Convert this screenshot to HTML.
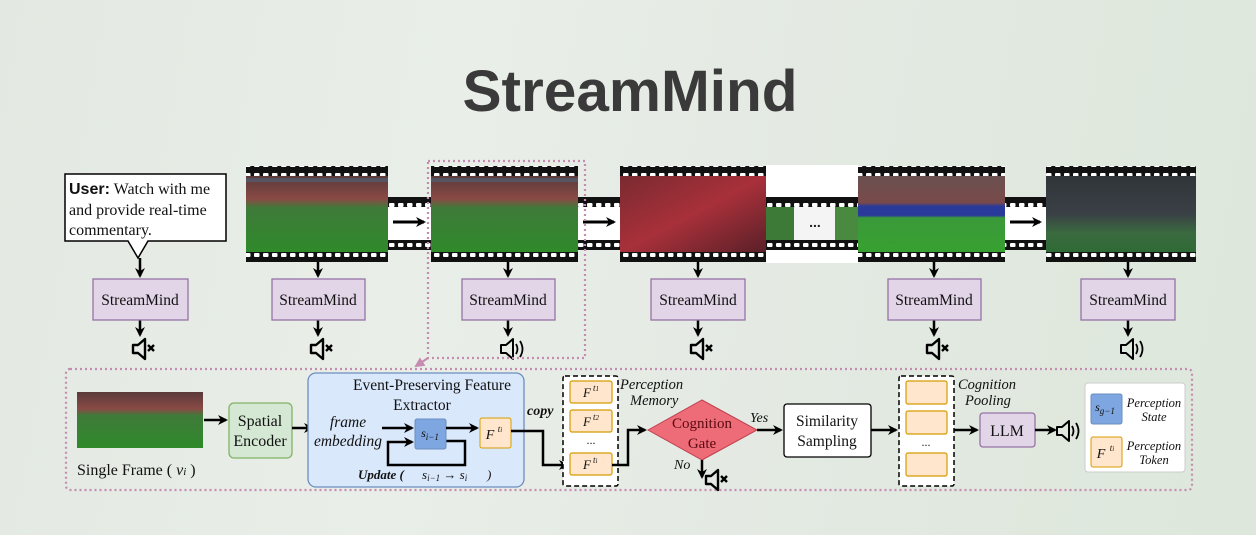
<!DOCTYPE html>
<html><head><meta charset="utf-8"><style>
html,body{margin:0;padding:0;width:1256px;height:535px;overflow:hidden}
body{background:linear-gradient(100deg,#e3e9e2 0%,#e9eee8 35%,#e2e9e1 70%,#dde7db 100%)}
svg{display:block}
.t{font-family:"Liberation Serif",serif;fill:#111}
.i{font-family:"Liberation Serif",serif;font-style:italic;fill:#111}
</style></head><body>
<svg width="1256" height="535" viewBox="0 0 1256 535" xmlns="http://www.w3.org/2000/svg">
<defs>
<marker id="ah" markerWidth="10" markerHeight="10" refX="8" refY="5" orient="auto" markerUnits="userSpaceOnUse">
<path d="M0,0 L10,5 L0,10 L3,5 Z" fill="#000"/></marker>
<marker id="ahp" markerWidth="10" markerHeight="10" refX="8" refY="5" orient="auto" markerUnits="userSpaceOnUse"><path d="M0,0 L10,5 L0,10 Z" fill="#c58bb0"/></marker>
<pattern id="perf" width="9" height="10" patternUnits="userSpaceOnUse">
<rect width="9" height="10" fill="#111"/><rect x="2" y="3" width="5.5" height="4" rx="1" fill="#fff"/></pattern>
<linearGradient id="pitch" x1="0" y1="0" x2="0" y2="1">
<stop offset="0" stop-color="#5a3a3a"/><stop offset="0.3" stop-color="#8a4a45"/><stop offset="0.42" stop-color="#3f7a3a"/><stop offset="1" stop-color="#2f8a2a"/></linearGradient>
<linearGradient id="crowd" x1="0" y1="0" x2="1" y2="1">
<stop offset="0" stop-color="#7a2a30"/><stop offset="0.5" stop-color="#a8303a"/><stop offset="1" stop-color="#5a2028"/></linearGradient>
<linearGradient id="p4" x1="0" y1="0" x2="0" y2="1">
<stop offset="0" stop-color="#6a5050"/><stop offset="0.35" stop-color="#7a4a4a"/><stop offset="0.4" stop-color="#2a3a9a"/><stop offset="0.52" stop-color="#2a3a9a"/><stop offset="0.55" stop-color="#3a9a3a"/><stop offset="1" stop-color="#38a030"/></linearGradient>
<linearGradient id="p5" x1="0" y1="0" x2="0" y2="1">
<stop offset="0" stop-color="#30353a"/><stop offset="0.5" stop-color="#3a4045"/><stop offset="0.75" stop-color="#3a6a40"/><stop offset="1" stop-color="#2f6a35"/></linearGradient>
<g id="mute"><path d="M0,5 h5 l7,-6 v20 l-7,-6 h-5 z" fill="none" stroke="#000" stroke-width="2.4" stroke-linejoin="round"/><path d="M15,5 l6,6 M21,5 l-6,6" stroke="#000" stroke-width="2.4"/></g>
<g id="snd"><path d="M0,5 h5 l7,-6 v20 l-7,-6 h-5 z" fill="none" stroke="#000" stroke-width="2" stroke-linejoin="round"/><path d="M15,4 q3,5 0,10 M19,1 q5,8 0,16" fill="none" stroke="#000" stroke-width="1.8"/></g>
</defs>

<text x="630" y="111" text-anchor="middle" font-family="'Liberation Sans',sans-serif" font-weight="bold" font-size="58" fill="#3a3a3a" textLength="335" lengthAdjust="spacingAndGlyphs">StreamMind</text>

<g>
<rect x="388" y="197" width="43" height="53" fill="#fff"/>
<rect x="388" y="197" width="43" height="10" fill="url(#perf)"/><rect x="388" y="240" width="43" height="10" fill="url(#perf)"/>
<rect x="578" y="197" width="42" height="53" fill="#fff"/>
<rect x="578" y="197" width="42" height="10" fill="url(#perf)"/><rect x="578" y="240" width="42" height="10" fill="url(#perf)"/>
<rect x="766" y="165" width="92" height="98" fill="#fff"/>
<rect x="766" y="197" width="92" height="10" fill="url(#perf)"/><rect x="766" y="240" width="92" height="10" fill="url(#perf)"/>
<rect x="766" y="207" width="28" height="33" fill="#3d7a38"/><rect x="835" y="207" width="23" height="33" fill="#4a8a40"/>
<rect x="794" y="207" width="41" height="33" fill="#f4f4f4"/>
<text x="815" y="227" text-anchor="middle" font-family="'Liberation Sans',sans-serif" font-size="14" font-weight="bold" fill="#222">...</text>
<rect x="1005" y="197" width="41" height="53" fill="#fff"/>
<rect x="1005" y="197" width="41" height="10" fill="url(#perf)"/><rect x="1005" y="240" width="41" height="10" fill="url(#perf)"/>
<line x1="393" y1="222" x2="424" y2="222" stroke="#000" stroke-width="3" marker-end="url(#ah)"/>
<line x1="583" y1="222" x2="614" y2="222" stroke="#000" stroke-width="3" marker-end="url(#ah)"/>
<line x1="1010" y1="222" x2="1040" y2="222" stroke="#000" stroke-width="3" marker-end="url(#ah)"/>
</g>

<g>
<rect x="246" y="166" width="142" height="10" fill="url(#perf)"/><rect x="246" y="176" width="142" height="76" fill="url(#pitch)"/><rect x="246" y="252" width="142" height="10" fill="url(#perf)"/>
<rect x="431" y="166" width="147" height="10" fill="url(#perf)"/><rect x="431" y="176" width="147" height="76" fill="url(#pitch)"/><rect x="431" y="252" width="147" height="10" fill="url(#perf)"/>
<rect x="620" y="166" width="146" height="10" fill="url(#perf)"/><rect x="620" y="176" width="146" height="76" fill="url(#crowd)"/><rect x="620" y="252" width="146" height="10" fill="url(#perf)"/>
<rect x="858" y="166" width="147" height="10" fill="url(#perf)"/><rect x="858" y="176" width="147" height="76" fill="url(#p4)"/><rect x="858" y="252" width="147" height="10" fill="url(#perf)"/>
<rect x="1046" y="166" width="150" height="10" fill="url(#perf)"/><rect x="1046" y="176" width="150" height="76" fill="url(#p5)"/><rect x="1046" y="252" width="150" height="10" fill="url(#perf)"/>
<rect x="246" y="178" width="142" height="4" fill="#4a6a8a" opacity="0.5"/>
<rect x="431" y="178" width="147" height="4" fill="#4a6a8a" opacity="0.5"/>
</g>

<path d="M65,174 H226 V241 H148 L138,258 L128,241 H65 Z" fill="#fff" stroke="#000" stroke-width="1.5"/>
<text x="69" y="194" class="t" font-size="16"><tspan font-family="'Liberation Sans',sans-serif" font-weight="bold">User:</tspan> Watch with me</text>
<text x="69" y="215" class="t" font-size="16">and provide real-time</text>
<text x="69" y="235" class="t" font-size="16">commentary.</text>

<g stroke="#000" stroke-width="2.5">
<line x1="140" y1="258" x2="140" y2="276" marker-end="url(#ah)"/>
<line x1="318" y1="262" x2="318" y2="276" marker-end="url(#ah)"/>
<line x1="508" y1="262" x2="508" y2="276" marker-end="url(#ah)"/>
<line x1="698" y1="262" x2="698" y2="276" marker-end="url(#ah)"/>
<line x1="934" y1="262" x2="934" y2="276" marker-end="url(#ah)"/>
<line x1="1128" y1="262" x2="1128" y2="276" marker-end="url(#ah)"/>
<line x1="140" y1="320" x2="140" y2="335" marker-end="url(#ah)"/>
<line x1="318" y1="320" x2="318" y2="335" marker-end="url(#ah)"/>
<line x1="508" y1="320" x2="508" y2="335" marker-end="url(#ah)"/>
<line x1="698" y1="320" x2="698" y2="335" marker-end="url(#ah)"/>
<line x1="934" y1="320" x2="934" y2="335" marker-end="url(#ah)"/>
<line x1="1128" y1="320" x2="1128" y2="335" marker-end="url(#ah)"/>
</g>
<g fill="#e1d5e7" stroke="#9673a6" stroke-width="1.3">
<rect x="93" y="279" width="95" height="41"/><rect x="272" y="279" width="93" height="41"/><rect x="462" y="279" width="93" height="41"/>
<rect x="651" y="279" width="94" height="41"/><rect x="888" y="279" width="93" height="41"/><rect x="1081" y="279" width="94" height="41"/>
</g>
<g class="t" font-size="15.5" text-anchor="middle">
<text x="140" y="305">StreamMind</text><text x="318" y="305">StreamMind</text><text x="508" y="305">StreamMind</text>
<text x="698" y="305">StreamMind</text><text x="934" y="305">StreamMind</text><text x="1128" y="305">StreamMind</text>
</g>
<use href="#mute" x="133" y="340"/><use href="#mute" x="311" y="340"/><use href="#snd" x="501" y="340"/>
<use href="#mute" x="691" y="340"/><use href="#mute" x="927" y="340"/><use href="#snd" x="1121" y="340"/>

<rect x="428" y="161" width="157" height="197" fill="none" stroke="#c58bb0" stroke-width="2.2" stroke-dasharray="2,3"/>
<line x1="428" y1="358" x2="416" y2="366" stroke="#c58bb0" stroke-width="2.2" marker-end="url(#ahp)"/>
<rect x="66" y="369" width="1126" height="121" rx="4" fill="none" stroke="#c58bb0" stroke-width="2.2" stroke-dasharray="2,3"/>

<rect x="77" y="392" width="126" height="56" fill="url(#pitch)"/>
<text x="77" y="475" class="t" font-size="16">Single Frame (  <tspan font-style="italic">v</tspan><tspan font-size="11" font-style="italic">i</tspan> )</text>
<line x1="204" y1="420" x2="226" y2="420" stroke="#000" stroke-width="2.5" marker-end="url(#ah)"/>
<rect x="229" y="403" width="63" height="55" rx="5" fill="#d5e8d4" stroke="#82b366" stroke-width="1.3"/>
<text x="260" y="426" class="t" font-size="16" text-anchor="middle">Spatial</text>
<text x="260" y="446" class="t" font-size="16" text-anchor="middle">Encoder</text>
<line x1="292" y1="428" x2="312" y2="428" stroke="#000" stroke-width="2.5" marker-end="url(#ah)"/>

<rect x="308" y="373" width="216" height="114" rx="8" fill="#dae8fc" stroke="#6c8ebf" stroke-width="1.3"/>
<text x="432" y="390" class="t" font-size="15.5" text-anchor="middle">Event-Preserving Feature</text>
<text x="422" y="410" class="t" font-size="15.5" text-anchor="middle">Extractor</text>
<text x="348" y="427" class="i" font-size="15.5" text-anchor="middle">frame</text>
<text x="348" y="446" class="i" font-size="15.5" text-anchor="middle">embedding</text>
<line x1="382" y1="428" x2="412" y2="428" stroke="#000" stroke-width="2.5" marker-end="url(#ah)"/>
<path d="M446,441 H465 V465 H388 V442 H412" fill="none" stroke="#000" stroke-width="2.5" marker-end="url(#ah)"/>
<rect x="415" y="419" width="31" height="30" rx="2" fill="#7ea6e0" stroke="#6c8ebf"/>
<text x="430" y="437" class="i" font-size="12" text-anchor="middle">s<tspan font-size="9" dy="3">i−1</tspan></text>
<line x1="446" y1="428" x2="477" y2="428" stroke="#000" stroke-width="2.5" marker-end="url(#ah)"/>
<rect x="480" y="418" width="31" height="30" rx="2" fill="#ffe6cc" stroke="#d79b00"/>
<text x="490" y="439" class="i" font-size="14" text-anchor="middle">F</text><text x="500" y="432" class="i" font-size="9" text-anchor="middle">t<tspan font-size="7">i</tspan></text>
<text x="358" y="479" class="i" font-size="13" font-weight="bold">Update (</text>
<text x="422" y="479" class="i" font-size="13">s<tspan font-size="9" dy="2">i−1</tspan><tspan dy="-2"> → s</tspan><tspan font-size="9" dy="2">i</tspan></text>
<text x="487" y="479" class="i" font-size="13">)</text>

<text x="527" y="415" class="i" font-size="14" font-weight="bold">copy</text>
<path d="M511,431 H543 V465 H567" fill="none" stroke="#000" stroke-width="2.5" marker-end="url(#ah)"/>

<rect x="563" y="376" width="55" height="110" rx="2" fill="#fff" stroke="#000" stroke-width="1.5" stroke-dasharray="5,3"/>
<g fill="#ffe6cc" stroke="#d79b00" stroke-width="1.2">
<rect x="570" y="381" width="42" height="22" rx="2"/><rect x="570" y="410" width="42" height="22" rx="2"/><rect x="570" y="453" width="42" height="22" rx="2"/></g>
<g class="i" font-size="13"><text x="583" y="397">F</text><text x="593" y="391" font-size="9">t<tspan font-size="7">1</tspan></text>
<text x="583" y="426">F</text><text x="593" y="420" font-size="9">t<tspan font-size="7">2</tspan></text>
<text x="583" y="469">F</text><text x="593" y="463" font-size="9">t<tspan font-size="7">i</tspan></text></g>
<text x="591" y="444" class="t" font-size="12" text-anchor="middle">...</text>
<text x="620" y="389" class="i" font-size="14.5">Perception</text>
<text x="630" y="405" class="i" font-size="14.5">Memory</text>

<path d="M612,465 H628 V430 H645" fill="none" stroke="#000" stroke-width="2.5" marker-end="url(#ah)"/>
<path d="M648,430 L702,400 L757,430 L702,460 Z" fill="#ee6b78" stroke="#c04050" stroke-width="1"/>
<text x="702" y="428" class="t" font-size="15" text-anchor="middle" style="fill:#5a0a10">Cognition</text>
<text x="702" y="448" class="t" font-size="15" text-anchor="middle" style="fill:#5a0a10">Gate</text>
<line x1="702" y1="460" x2="702" y2="477" stroke="#000" stroke-width="2.5" marker-end="url(#ah)"/>
<text x="674" y="469" class="i" font-size="14">No</text>
<use href="#mute" x="706" y="471"/>
<text x="750" y="422" class="i" font-size="14">Yes</text>
<line x1="757" y1="430" x2="781" y2="430" stroke="#000" stroke-width="2.5" marker-end="url(#ah)"/>
<rect x="784" y="404" width="87" height="53" rx="3" fill="#fff" stroke="#000" stroke-width="1.3"/>
<text x="827" y="426" class="t" font-size="15.5" text-anchor="middle">Similarity</text>
<text x="827" y="446" class="t" font-size="15.5" text-anchor="middle">Sampling</text>
<line x1="871" y1="430" x2="896" y2="430" stroke="#000" stroke-width="2.5" marker-end="url(#ah)"/>

<rect x="899" y="376" width="55" height="110" rx="2" fill="#fff" stroke="#000" stroke-width="1.5" stroke-dasharray="5,3"/>
<g fill="#ffe6cc" stroke="#d79b00" stroke-width="1.2">
<rect x="906" y="381" width="41" height="23" rx="2"/><rect x="906" y="411" width="41" height="23" rx="2"/><rect x="906" y="453" width="41" height="23" rx="2"/></g>
<text x="926" y="446" class="t" font-size="12" text-anchor="middle">...</text>
<text x="958" y="389" class="i" font-size="14.5">Cognition</text>
<text x="965" y="405" class="i" font-size="14.5">Pooling</text>
<line x1="954" y1="430" x2="977" y2="430" stroke="#000" stroke-width="2.5" marker-end="url(#ah)"/>
<rect x="980" y="413" width="55" height="34" rx="3" fill="#e1d5e7" stroke="#9673a6" stroke-width="1.3"/>
<text x="1007" y="436" class="t" font-size="16" text-anchor="middle">LLM</text>
<line x1="1035" y1="430" x2="1055" y2="430" stroke="#000" stroke-width="2.5" marker-end="url(#ah)"/>
<use href="#snd" x="1057" y="422"/>

<rect x="1085" y="383" width="100" height="89" rx="3" fill="#fff" stroke="#ccc"/>
<rect x="1091" y="394" width="31" height="30" rx="2" fill="#7ea6e0" stroke="#6c8ebf"/>
<text x="1105" y="411" class="i" font-size="12" text-anchor="middle">s<tspan font-size="9" dy="3">g−1</tspan></text>
<rect x="1091" y="437" width="31" height="30" rx="2" fill="#ffe6cc" stroke="#d79b00"/>
<text x="1101" y="458" class="i" font-size="14" text-anchor="middle">F</text><text x="1112" y="451" class="i" font-size="9" text-anchor="middle">t<tspan font-size="7">i</tspan></text>
<text x="1154" y="407" class="i" font-size="12.5" text-anchor="middle">Perception</text>
<text x="1154" y="421" class="i" font-size="12.5" text-anchor="middle">State</text>
<text x="1154" y="450" class="i" font-size="12.5" text-anchor="middle">Perception</text>
<text x="1154" y="464" class="i" font-size="12.5" text-anchor="middle">Token</text>
</svg>
</body></html>
